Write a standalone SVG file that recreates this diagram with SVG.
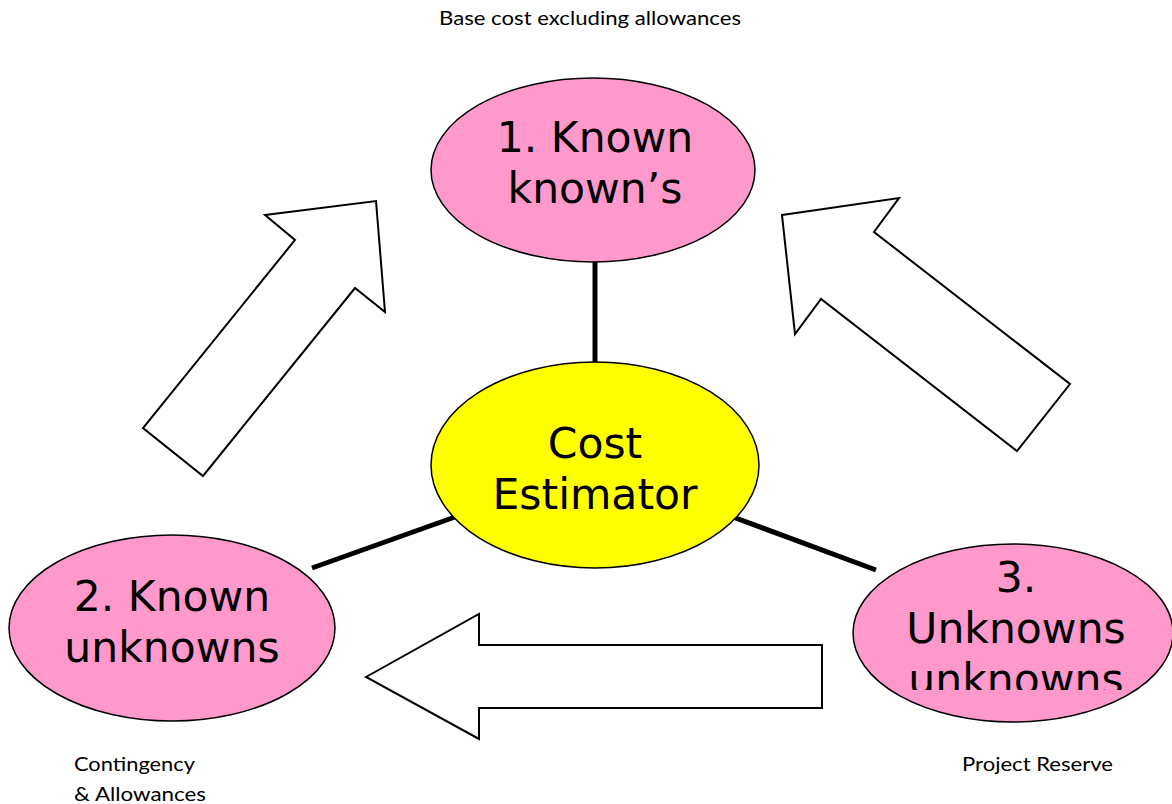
<svg xmlns="http://www.w3.org/2000/svg" width="1172" height="804" viewBox="0 0 1172 804">
<style>
.bub{stroke:#000;stroke-width:1.5}
.pink{fill:#ff99cc}
.yel{fill:#ffff00}
.big{font-family:"DejaVu Sans",Verdana,sans-serif;font-size:42.5px;fill:#000;text-anchor:middle}
.small{font-family:Lato,"Liberation Sans",sans-serif;font-size:19.5px;fill:#000}
.blk{fill:#fff;stroke:#000;stroke-width:2;stroke-linejoin:miter}
.con{stroke:#000;stroke-width:5;fill:none}
</style>
<defs>
<clipPath id="clip3"><rect x="840" y="540" width="340" height="150"/></clipPath>
</defs>
<g id="connectors">
<line class="con" x1="595" y1="260" x2="595" y2="364"/>
<line class="con" x1="455" y1="517" x2="312" y2="568"/>
<line class="con" x1="733" y1="517" x2="876" y2="570"/>
</g>
<g id="arrows">
<polygon class="blk" points="265,215 376,201 385,312 355,288 203,476 143,428 295,240"/>
<polygon class="blk" points="782,215 899,198 874,232 1070,384 1017,451 821,299 795,334"/>
<polygon class="blk" points="366,677 479,614 479,645 822,645 822,708 479,708 479,739"/>
</g>
<g id="node1">
<ellipse class="bub pink" cx="593" cy="170" rx="162" ry="92"/>
<text class="big" x="595" y="152">1. Known</text>
<text class="big" x="595" y="203">known’s</text>
</g>
<g id="center">
<ellipse class="bub yel" cx="595" cy="465" rx="164" ry="103"/>
<text class="big" x="595" y="458">Cost</text>
<text class="big" x="595" y="509">Estimator</text>
</g>
<g id="node2">
<ellipse class="bub pink" cx="172" cy="628" rx="163" ry="93"/>
<text class="big" x="172" y="611">2. Known</text>
<text class="big" x="172" y="662">unknowns</text>
</g>
<g id="node3">
<ellipse class="bub pink" cx="1013" cy="633" rx="160" ry="89"/>
<g clip-path="url(#clip3)">
<text class="big" x="1016" y="592">3.</text>
<text class="big" x="1016" y="643">Unknowns</text>
<text class="big" x="1016" y="694">unknowns</text>
</g>
</g>
<g id="labels">
<text class="small" x="439" y="25" textLength="302" lengthAdjust="spacingAndGlyphs">Base cost excluding allowances</text>
<text class="small" x="74" y="771" textLength="121" lengthAdjust="spacingAndGlyphs">Contingency</text>
<text class="small" x="74" y="801" textLength="132" lengthAdjust="spacingAndGlyphs">&amp; Allowances</text>
<text class="small" x="962" y="771" textLength="151" lengthAdjust="spacingAndGlyphs">Project Reserve</text>
</g>
</svg>
